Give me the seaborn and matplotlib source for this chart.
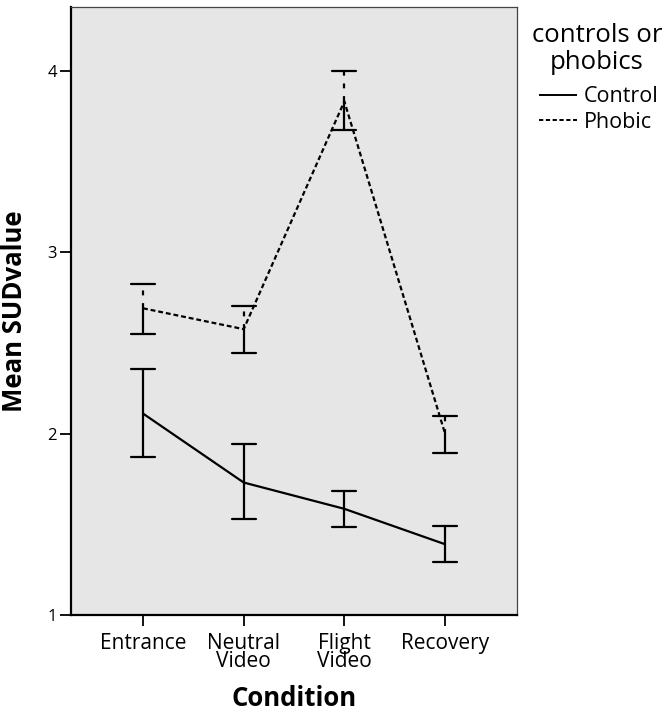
import matplotlib
matplotlib.use("Agg")
import matplotlib.pyplot as plt
import seaborn as sns
import pandas as pd
import numpy as np

conditions = ["Entrance", "Neutral\nVideo", "Flight\nVideo", "Recovery"]
groups = ["Control", "Phobic"]
control_mean = [2.11, 1.73, 1.585, 1.39]
control_low = [1.87, 1.53, 1.485, 1.29]
control_high = [2.355, 1.94, 1.685, 1.49]
phobic_mean = [2.69, 2.575, 3.83, 2.0]
phobic_low = [2.55, 2.445, 3.67, 1.89]
phobic_high = [2.825, 2.705, 3.995, 2.095]

sns.set_theme(style="white")
plt.rcParams['font.family'] = ['Open Sans', 'DejaVu Sans']
plt.rcParams['text.color'] = 'black'
plt.rcParams['axes.labelcolor'] = 'black'
plt.rcParams['xtick.color'] = 'black'
plt.rcParams['ytick.color'] = 'black'

df = pd.DataFrame({
    "Condition": conditions * 2,
    "pos": list(range(len(conditions))) * 2,
    "Mean SUDvalue": control_mean + phobic_mean,
    "controls or phobics": [groups[0]] * 4 + [groups[1]] * 4,
})

W, H = 670, 712
fig = plt.figure(figsize=(W / 100, H / 100), dpi=100)
ax = fig.add_axes([71/W, 1-615/H, (517-71)/W, (615-7)/H])
ax.set_facecolor("#E6E6E6")

lw = 1.6
sns.lineplot(data=df, x="pos", y="Mean SUDvalue", style="controls or phobics",
             hue="controls or phobics", palette=["black", "black"],
             dashes=[(1, 0), (2.2, 1.3)], linewidth=lw, ax=ax, legend=True)

cap = 0.12
pos = np.arange(len(conditions))
# Control error bars (solid)
for x, lo, hi in zip(pos, control_low, control_high):
    ax.plot([x, x], [lo, hi], color="black", lw=lw)
    ax.plot([x - cap, x + cap], [lo, lo], color="black", lw=lw)
    ax.plot([x - cap, x + cap], [hi, hi], color="black", lw=lw)
# Phobic error bars (upper part dashed, lower part solid)
for x, m, lo, hi in zip(pos, phobic_mean, phobic_low, phobic_high):
    ax.plot([x, x], [lo, m], color="black", lw=lw)
    ax.plot([x, x], [m, hi], color="black", lw=lw, dashes=(2.2, 3.5))
    ax.plot([x - cap, x + cap], [lo, lo], color="black", lw=lw)
    ax.plot([x - cap, x + cap], [hi, hi], color="black", lw=lw)

ax.set_xlim(-0.715, 3.715)
ax.set_ylim(1, 4.35)
ax.set_xticks(pos)
ax.set_xticklabels(conditions, fontsize=15, linespacing=0.82)
ax.set_yticks([1, 2, 3, 4])
ax.set_yticklabels(["1", "2", "3", "4"], fontsize=12)
ax.tick_params(axis="both", direction="out", length=8, width=1.3, color="black",
               bottom=True, left=True, pad=2)
ax.tick_params(axis="x", pad=5)
ax.set_xlabel("Condition", fontsize=18.5, fontweight="bold", labelpad=9)
ax.set_ylabel("Mean SUDvalue", fontsize=18.5, fontweight="bold", labelpad=14)

for s in ["left", "bottom"]:
    ax.spines[s].set_color("black")
    ax.spines[s].set_linewidth(1.6)
for s in ["top", "right"]:
    ax.spines[s].set_color("#444444")
    ax.spines[s].set_linewidth(0.9)

fig.text(597/W, 1-49/H, "controls or\nphobics", fontsize=18.5, ha="center",
         va="center", multialignment="center", linespacing=1.15)

handles, labels = ax.get_legend_handles_labels()
leg = ax.legend(handles, labels, frameon=False,
                loc="upper left", bbox_to_anchor=(535/W, 1-82/H),
                bbox_transform=fig.transFigure,
                fontsize=15.5, handlelength=1.75,
                handletextpad=0.3, labelspacing=0.2, borderaxespad=0.0,
                borderpad=0.2)
for h in leg.get_lines():
    h.set_linewidth(1.4)

fig.savefig("out.png", dpi=100)
